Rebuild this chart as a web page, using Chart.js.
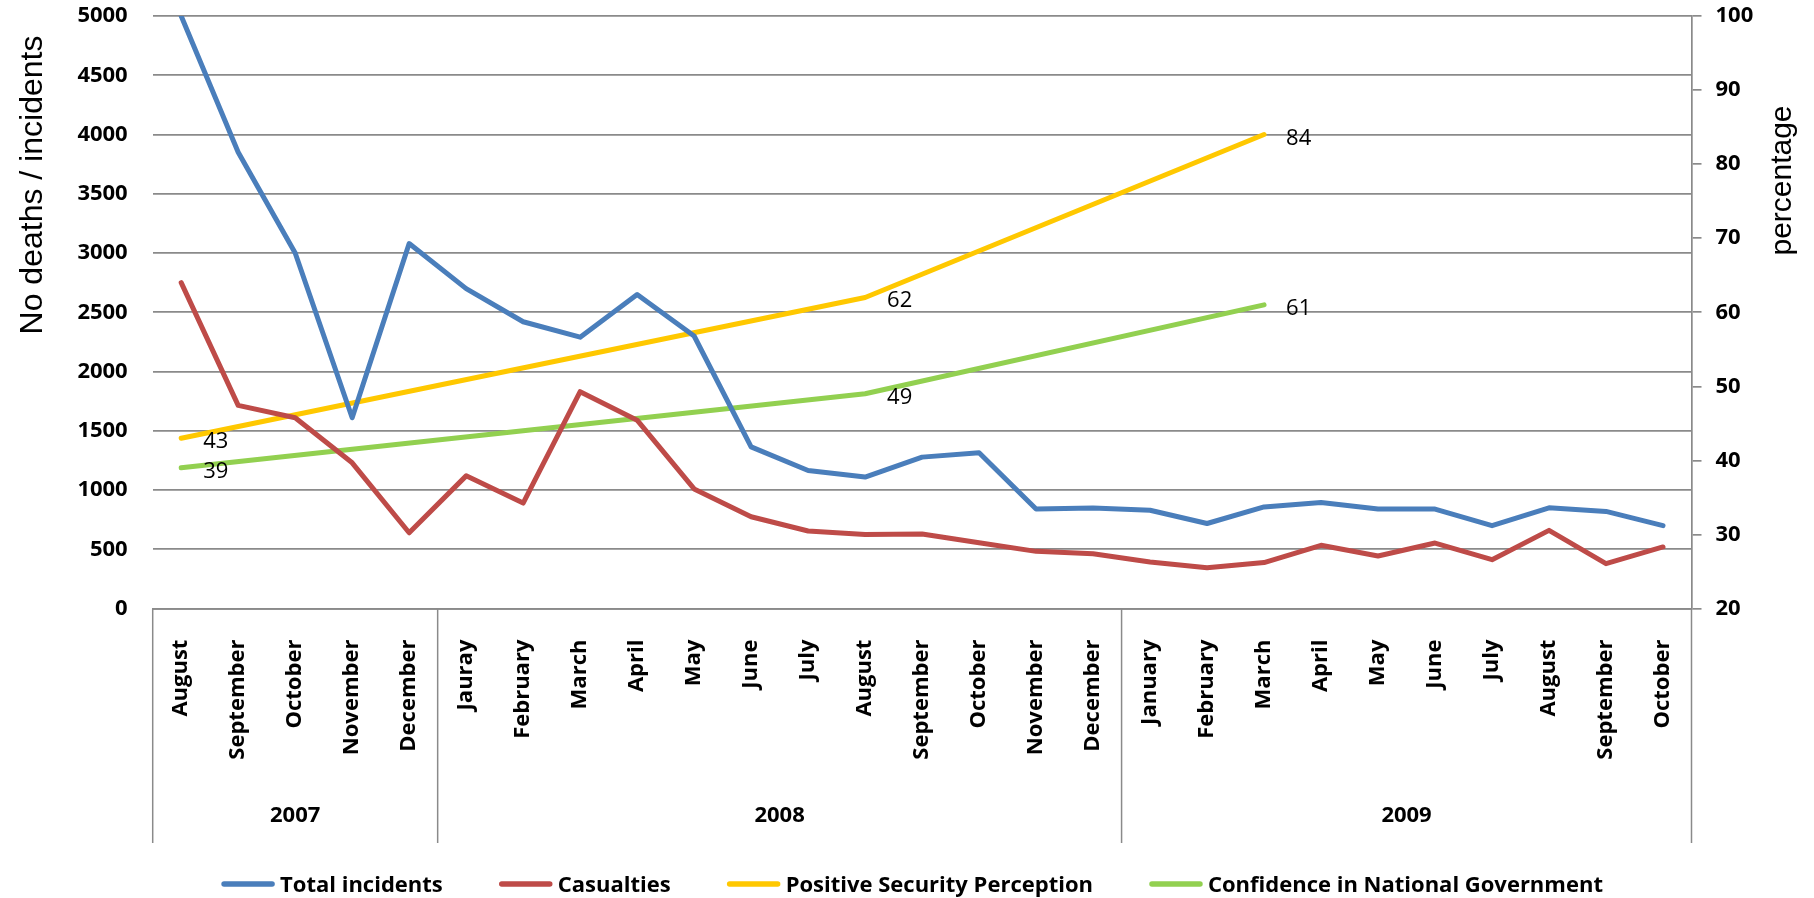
<!DOCTYPE html>
<html><head><meta charset="utf-8">
<script src="https://cdn.jsdelivr.net/npm/chart.js@4"></script>
<style>html,body{margin:0;padding:0;background:#fff;overflow:hidden}</style>
</head><body>
<canvas id="c" width="1814" height="898" style="width:1814px;height:898px;display:block"></canvas>
<script>
const months = ["August","September","October","November","December","Jauray","February","March","April","May","June","July","August","September","October","November","December","January","February","March","April","May","June","July","August","September","October"];
const years = ["2007","2008","2009"];
const yearSpans = [5, 12, 10];
const totalIncidents = [5000,3850,3000,1610,3080,2700,2420,2290,2650,2300,1365,1165,1110,1278,1315,840,848,830,718,858,895,840,840,700,850,820,700];
const casualties = [2750,1715,1610,1230,640,1120,890,1830,1590,1010,775,655,625,630,555,483,463,393,345,388,534,444,553,413,660,379,520];
const securityPerception = [43,null,null,null,null,null,null,null,null,null,null,null,62,null,null,null,null,null,null,84,null,null,null,null,null,null,null];
const confidenceGov = [39,null,null,null,null,null,null,null,null,null,null,null,49,null,null,null,null,null,null,61,null,null,null,null,null,null,null];
const leftTitle = "No deaths / incidents";
const rightTitle = "percentage";

const GRID = '#8a8a8a';
Chart.defaults.font.family = "'Open Sans', sans-serif";
Chart.defaults.color = '#000';

const extras = {
  id: 'extras',
  afterDatasetsDraw(chart) {
    const ctx = chart.ctx;
    ctx.save();
    ctx.font = '22px "Open Sans"';
    ctx.fillStyle = '#000';
    ctx.textAlign = 'left';
    ctx.textBaseline = 'alphabetic';
    chart.data.datasets.forEach((ds, di) => {
      if (!ds.showValues) return;
      const meta = chart.getDatasetMeta(di);
      meta.data.forEach((pt, i) => {
        const v = ds.data[i];
        if (v === null || v === undefined) return;
        ctx.fillText(String(v), pt.x + 22, pt.y + 10);
      });
    });
    ctx.restore();
  },
  afterDraw(chart) {
    const ctx = chart.ctx;
    const a = chart.chartArea;
    const x = chart.scales.x;
    ctx.save();
    ctx.strokeStyle = GRID;
    ctx.lineWidth = 1.5;
    const bounds = [a.left];
    let idx = 0;
    yearSpans.forEach(n => {
      idx += n;
      bounds.push(idx >= months.length ? a.right : (x.getPixelForValue(idx - 1) + x.getPixelForValue(idx)) / 2);
    });
    bounds.forEach(b => {
      ctx.beginPath();
      ctx.moveTo(b, a.bottom);
      ctx.lineTo(b, 843);
      ctx.stroke();
    });
    ctx.fillStyle = '#000';
    ctx.font = 'bold 22px "Open Sans"';
    ctx.textAlign = 'center';
    ctx.textBaseline = 'alphabetic';
    years.forEach((yr, i) => ctx.fillText(yr, (bounds[i] + bounds[i + 1]) / 2, 821.5));

    ctx.save();
    ctx.translate(42, 185);
    ctx.rotate(-Math.PI / 2);
    ctx.font = '32px "Liberation Sans"';
    ctx.textAlign = 'center';
    ctx.fillText(leftTitle, 0, 0);
    ctx.restore();
    ctx.save();
    ctx.translate(1791, 180.5);
    ctx.rotate(-Math.PI / 2);
    ctx.font = '30px "Liberation Sans"';
    ctx.textAlign = 'center';
    ctx.fillText(rightTitle, 0, 0);
    ctx.restore();

    ctx.font = 'bold 22px "Open Sans"';
    const items = chart.data.datasets.map(d => ({label: d.label, color: d.borderColor, w: ctx.measureText(d.label).width}));
    const LINE = 54, GAP = 5, ITEM_GAP = 56;
    const total = items.reduce((s, it) => s + LINE + GAP + it.w, 0) + ITEM_GAP * (items.length - 1);
    let cx = 912 - total / 2;
    const ly = 884;
    items.forEach(it => {
      ctx.strokeStyle = it.color;
      ctx.lineWidth = 5.5;
      ctx.lineCap = 'round';
      ctx.beginPath();
      ctx.moveTo(cx + 3, ly);
      ctx.lineTo(cx + LINE - 3, ly);
      ctx.stroke();
      ctx.textAlign = 'left';
      ctx.textBaseline = 'alphabetic';
      ctx.fillText(it.label, cx + LINE + GAP, 891.5);
      cx += LINE + GAP + it.w + ITEM_GAP;
    });
    ctx.restore();
  }
};

const plainTick = v => String(v);

new Chart(document.getElementById('c'), {
  type: 'line',
  data: {
    labels: months,
    datasets: [
      {label: 'Total incidents', data: totalIncidents, borderColor: '#4A7EBB', backgroundColor: '#4A7EBB', yAxisID: 'y'},
      {label: 'Casualties', data: casualties, borderColor: '#BE4B48', backgroundColor: '#BE4B48', yAxisID: 'y'},
      {label: 'Positive Security Perception', data: securityPerception, borderColor: '#FFC800', backgroundColor: '#FFC800', yAxisID: 'y1', spanGaps: true, showValues: true},
      {label: 'Confidence in National Government', data: confidenceGov, borderColor: '#92D050', backgroundColor: '#92D050', yAxisID: 'y1', spanGaps: true, showValues: true}
    ]
  },
  options: {
    responsive: false,
    animation: false,
    layout: {padding: {top: 16, left: 0, right: 0, bottom: 0}},
    elements: {
      point: {radius: 0, hoverRadius: 0},
      line: {borderWidth: 5, tension: 0, borderCapStyle: 'round', borderJoinStyle: 'round', fill: false}
    },
    plugins: {legend: {display: false}, tooltip: {enabled: false}},
    scales: {
      x: {
        offset: true,
        grid: {display: false},
        border: {display: true, color: GRID, width: 1.7},
        ticks: {autoSkip: false, minRotation: 90, maxRotation: 90, padding: 23, font: {size: 22, weight: 'bold'}},
        afterFit(s) { s.height = 289.4; s.paddingLeft = 0; s.paddingRight = 0; }
      },
      y: {
        position: 'left', min: 0, max: 5000,
        ticks: {stepSize: 500, padding: 25, font: {size: 22, weight: 'bold'}, callback: plainTick},
        grid: {color: GRID, lineWidth: 1.7, drawTicks: false},
        border: {display: false},
        afterFit(s) { s.width = 152.7; s.paddingTop = 0; s.paddingBottom = 0; }
      },
      y1: {
        position: 'right', min: 20, max: 100,
        ticks: {stepSize: 10, padding: 14, font: {size: 22, weight: 'bold'}, callback: plainTick},
        grid: {drawOnChartArea: false, color: GRID, lineWidth: 1.7, tickLength: 10},
        border: {display: true, color: GRID, width: 1.7},
        afterFit(s) { s.width = 122.5; s.paddingTop = 0; s.paddingBottom = 0; }
      }
    }
  },
  plugins: [extras]
});
</script>
</body></html>
